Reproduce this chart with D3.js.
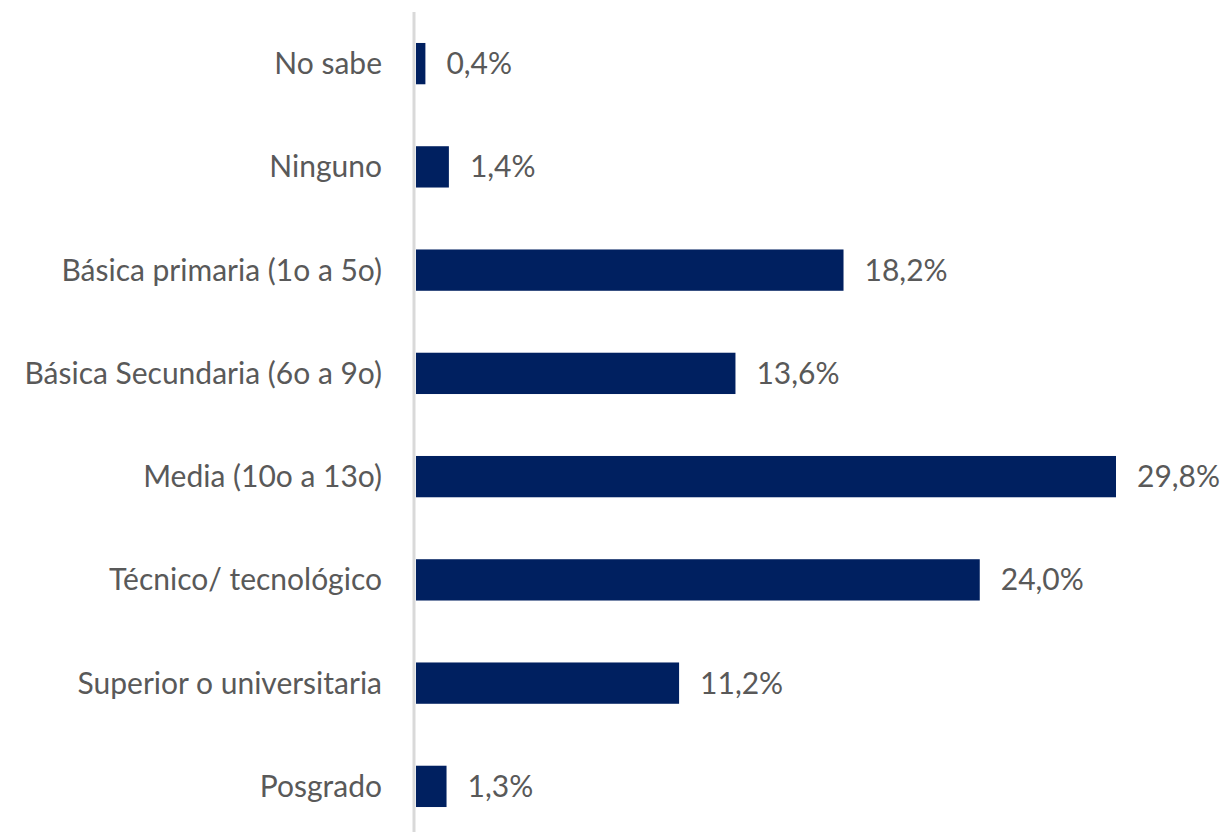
<!DOCTYPE html>
<html>
<head>
<meta charset="utf-8">
<script src="https://cdn.jsdelivr.net/npm/d3@7"></script>
<style>
  body { margin: 0; background: #fff; }
  svg text { font-family: Lato, "Open Sans", sans-serif; fill: #595959; }
</style>
</head>
<body>
<svg id="chart" width="1229" height="832"></svg>
<script>
// chart data
const categories = ["No sabe", "Ninguno", "Básica primaria (1o a 5o)", "Básica Secundaria (6o a 9o)",
    "Media (10o a 13o)", "Técnico/ tecnológico", "Superior o universitaria", "Posgrado"];
const values = [0.4, 1.4, 18.2, 13.6, 29.8, 24.0, 11.2, 1.3];
const valueLabels = ["0,4%", "1,4%", "18,2%", "13,6%", "29,8%", "24,0%", "11,2%", "1,3%"];

const margin = {top: 12, right: 0, bottom: 0, left: 416};
const width = 1229;
const height = 832;

const svg = d3.select("#chart");

const x = d3.scaleLinear()
    .domain([0, 29.8])
    .range([margin.left, 1116]);

const y = d3.scaleBand()
    .domain(categories)
    .range([12, 838])
    .paddingInner(0.6)
    .paddingOuter(0.3);

// bars
svg.append("g")
    .selectAll("rect")
    .data(values)
    .enter()
    .append("rect")
    .attr("x", x(0))
    .attr("y", (d, i) => y(categories[i]))
    .attr("width", d => x(d) - x(0))
    .attr("height", y.bandwidth())
    .attr("fill", "#002060");

// vertical axis line
svg.append("line")
    .attr("x1", margin.left - 2)
    .attr("x2", margin.left - 2)
    .attr("y1", 12)
    .attr("y2", height)
    .attr("stroke", "#d9d9d9")
    .attr("stroke-width", 3);

// category labels
svg.append("g")
    .selectAll("text")
    .data(categories)
    .enter()
    .append("text")
    .attr("x", 382)
    .attr("y", d => y(d) + y.bandwidth() / 2)
    .attr("dy", "0.35em")
    .attr("text-anchor", "end")
    .attr("font-size", 30)
    .text(d => d);

// value labels
svg.append("g")
    .selectAll("text")
    .data(values)
    .enter()
    .append("text")
    .attr("x", d => x(d) + 21)
    .attr("y", (d, i) => y(categories[i]) + y.bandwidth() / 2)
    .attr("dy", "0.35em")
    .attr("font-size", 30)
    .text((d, i) => valueLabels[i]);
</script>
</body>
</html>
